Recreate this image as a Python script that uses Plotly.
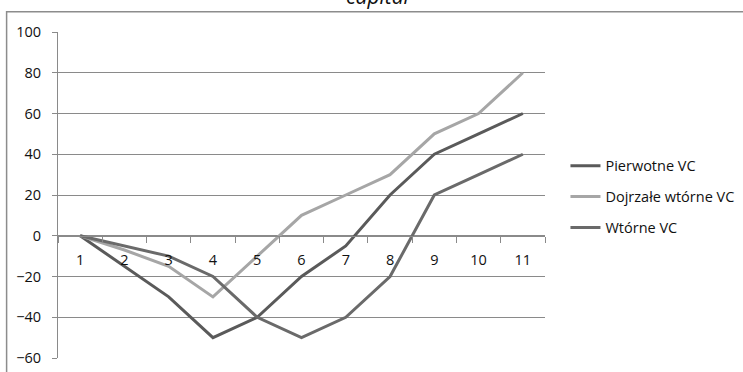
import plotly.graph_objects as go

categories = ["1", "2", "3", "4", "5", "6", "7", "8", "9", "10", "11"]
pierwotne = [0, -15, -30, -50, -40, -20, -5, 20, 40, 50, 60]
dojrzale = [0, -7, -15, -30, -10, 10, 20, 30, 50, 60, 80]
wtorne = [0, -5, -10, -20, -40, -50, -40, -20, 20, 30, 40]
y_ticks = [-60, -40, -20, 0, 20, 40, 60, 80, 100]

series = [
    ("Pierwotne VC", pierwotne, "#5a5a5a"),
    ("Dojrzałe wtórne VC", dojrzale, "#a6a6a6"),
    ("Wtórne VC", wtorne, "#6a6a6a"),
]

W, H = 743, 372
L, R, T, B = 57.5, 545.5, 32.3, 358.0
FONT = "Open Sans"
TXT = "#111111"

fig = go.Figure()
for i, (name, vals, color) in enumerate(series):
    fig.add_trace(go.Scatter(
        x=categories, y=vals, name=name, mode="lines",
        line=dict(color=color, width=3),
        legendgroup=f"g{i}",
    ))

grid = "#8a8a8a"
fig.update_layout(
    width=W, height=H,
    margin=dict(l=L, r=W - R, t=T, b=H - B, pad=0, autoexpand=False),
    paper_bgcolor="white", plot_bgcolor="white",
    font=dict(family=FONT, size=13, color=TXT),
    showlegend=True,
    legend=dict(
        x=(566 - L) / (R - L), y=(B - 150) / (B - T),
        xanchor="left", yanchor="top",
        font=dict(family=FONT, size=14.5, color=TXT),
        traceorder="grouped", tracegroupgap=9,
        bgcolor="rgba(0,0,0,0)",
    ),
    xaxis=dict(
        type="category", range=[-0.5, 10.5],
        anchor="free", position=60 / 160, automargin=False,
        showline=True, linecolor=grid, linewidth=1,
        ticks="outside", tickson="boundaries", ticklen=6, tickcolor=grid,
        ticklabelstandoff=11,
        showgrid=False, zeroline=False,
        tickfont=dict(family=FONT, size=14.5, color=TXT),
    ),
    yaxis=dict(
        range=[-60, 100], tickvals=y_ticks, automargin=False,
        showline=True, linecolor=grid, linewidth=1,
        ticks="outside", ticklen=5, tickcolor=grid,
        ticklabelstandoff=8,
        showgrid=True, gridcolor=grid, gridwidth=1,
        zeroline=False,
        tickfont=dict(family=FONT, size=14.5, color=TXT),
    ),
)

# outer chart frame (runs off the right and bottom edges)
fig.add_shape(
    type="rect", xref="paper", yref="paper",
    x0=(6 - L) / (R - L), x1=(760 - L) / (R - L),
    y0=(B - 390) / (B - T), y1=(B - 12) / (B - T),
    line=dict(color="#8c8c8c", width=1.5), fillcolor="rgba(0,0,0,0)",
    layer="below",
)

# chart title, partially cut by the top edge
fig.add_annotation(
    text="<i>capital</i>", xref="paper", yref="paper",
    x=(378 - L) / (R - L), y=(B - 12) / (B - T),
    xanchor="center", yanchor="bottom", showarrow=False,
    font=dict(family=FONT, size=21, color=TXT),
)

fig.write_html("out.html")
